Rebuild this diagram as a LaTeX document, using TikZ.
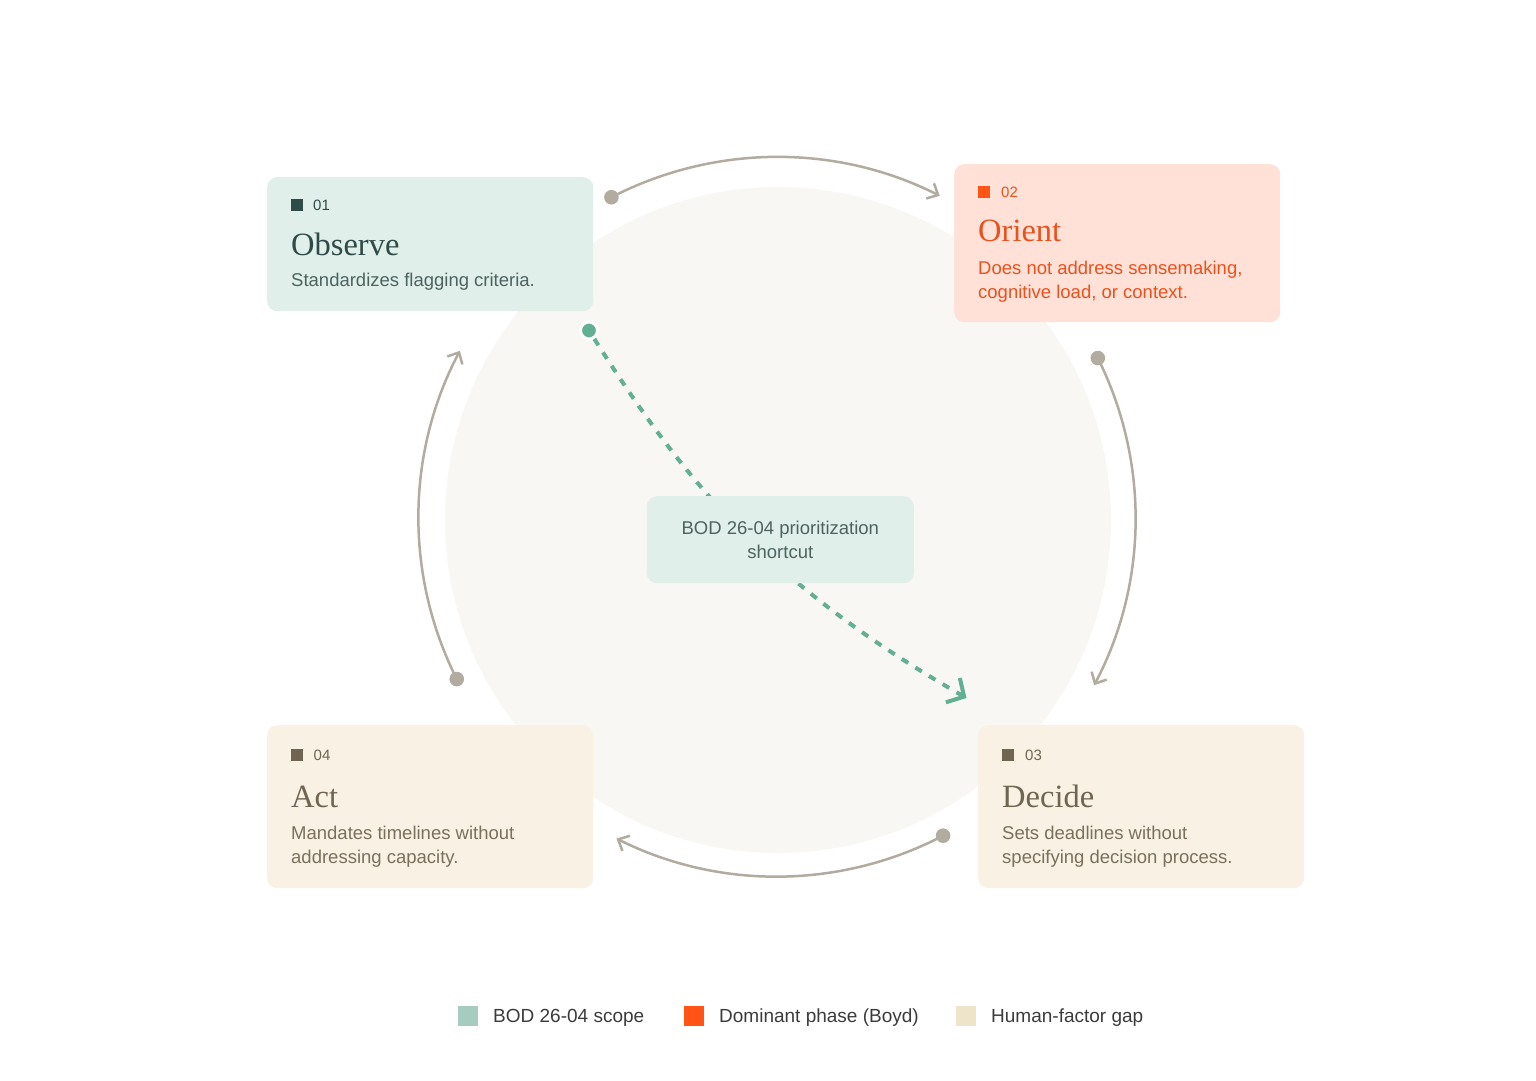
\documentclass[tikz,border=0pt]{standalone}
\usepackage{fontspec}
\setmainfont{Liberation Sans}
\newfontfamily\headfont{Liberation Serif}
\usetikzlibrary{arrows.meta, positioning, calc}
\definecolor{BgDisc}{HTML}{F8F7F4}
\definecolor{LoopGray}{HTML}{B1ABA0}
\definecolor{ScopeFill}{HTML}{E0EFEA}
\definecolor{ScopeInk}{HTML}{2F4B47}
\definecolor{ScopeText}{HTML}{4E6360}
\definecolor{ScopeLegend}{HTML}{A6CBBF}
\definecolor{ShortcutGreen}{HTML}{62AF93}
\definecolor{OrientFill}{HTML}{FFE1D7}
\definecolor{OrientMark}{HTML}{FF5416}
\definecolor{OrientInk}{HTML}{E8521E}
\definecolor{GapFill}{HTML}{F8F1E4}
\definecolor{GapInk}{HTML}{6F6550}
\definecolor{GapText}{HTML}{7A705C}
\definecolor{GapLegend}{HTML}{EEE4C9}
\definecolor{LegendText}{HTML}{3B3B3B}

\begin{document}
\begin{tikzpicture}[
        x=1pt, y=1pt,
        card/.style={rectangle,rounded corners=10pt,minimum width=326pt,
                     anchor=north west,inner sep=0pt},
        tagsq/.style={rectangle,minimum size=12pt,inner sep=0pt,anchor=north west},
        num/.style={font=\fontsize{15}{18}\selectfont,anchor=base west,inner sep=0pt},
        ttl/.style={font=\headfont\fontsize{32.5}{36}\selectfont,anchor=base west,inner sep=0pt},
        desc/.style={font=\fontsize{18.5}{24}\selectfont,anchor=base west,
                     inner sep=0pt,align=left},
        dotnd/.style={circle,fill=LoopGray,minimum size=14.6pt,inner sep=0pt},
        flow/.style={LoopGray,line width=2.5pt,-{Straight Barb[length=9pt,width=17pt]}},
        shortcut/.style={ShortcutGreen,line width=4pt,dash pattern=on 7.5pt off 8.5pt,
                         -{Straight Barb[length=13pt,width=28pt]}},
        lgsq/.style={rectangle,minimum size=20pt,inner sep=0pt,anchor=north west},
        lgtext/.style={font=\fontsize{19}{22}\selectfont,text=LegendText,
                       anchor=base west,inner sep=0pt}
      ]
        \useasboundingbox (0,0) rectangle (1536,-1080);
        % background disc
        \coordinate (c) at (777,-518);
        \fill[BgDisc] (778,-520) circle[radius=333];

        % loop arcs
        \coordinate (p1) at ($(c)+(117.3:361)$);
        \coordinate (p2) at ($(c)+(26.5:358.5)$);
        \coordinate (p3) at ($(c)+(-62.4:358.5)$);
        \coordinate (p4) at ($(c)+(206.7:358.5)$);
        \draw[flow] (p1) arc[start angle=117.3,end angle=63.2,radius=361];
        \draw[flow] (p2) arc[start angle=26.5,end angle=-27.8,radius=358.5];
        \draw[flow] (p3) arc[start angle=-62.4,end angle=-116.6,radius=358.5];
        \draw[flow] (p4) arc[start angle=206.7,end angle=152.2,radius=358.5];
        \node[dotnd] (d1) at (p1) {};
        \node[dotnd] (d2) at (p2) {};
        \node[dotnd] (d3) at (p3) {};
        \node[dotnd] (d4) at (p4) {};

        % cards
        \node[card,fill=ScopeFill,minimum height=134pt] (obs) at (267,-177) {};
        \node[card,fill=OrientFill,minimum height=158pt] (ori) at (954,-164) {};
        \node[card,fill=GapFill,minimum height=163pt] (dec) at (978,-725) {};
        \node[card,fill=GapFill,minimum height=163pt] (act) at (267,-725) {};

        \node[tagsq,fill=ScopeInk] (obsq) at ($(obs.north west)+(24,-22)$) {};
        \node[num,text=ScopeInk] (obsn) at ($(obs.north west)+(46,-33)$) {01};
        \node[ttl,text=ScopeInk] (obst) at ($(obs.north west)+(24,-78)$) {Observe};
        \node[desc,text=ScopeText] (obsd) at ($(obs.north west)+(24,-109.5)$)
          {Standardizes flagging criteria.};

        % two-line texts sit on their last line
        \node[tagsq,fill=OrientMark] (orisq) at ($(ori.north west)+(24,-22)$) {};
        \node[num,text=OrientInk] (orin) at ($(ori.north west)+(47,-33)$) {02};
        \node[ttl,text=OrientInk] (orit) at ($(ori.north west)+(24,-77.5)$) {Orient};
        \node[desc,text=OrientInk] (orid) at ($(ori.north west)+(24,-134)$)
          {Does not address sensemaking,\\cognitive load, or context.};

        \node[tagsq,fill=GapInk] (decsq) at ($(dec.north west)+(24,-24)$) {};
        \node[num,text=GapInk] (decn) at ($(dec.north west)+(47,-35)$) {03};
        \node[ttl,text=GapInk] (dect) at ($(dec.north west)+(24,-82)$) {Decide};
        \node[desc,text=GapText] (decd) at ($(dec.north west)+(24,-138.3)$)
          {Sets deadlines without\\specifying decision process.};

        \node[tagsq,fill=GapInk] (actsq) at ($(act.north west)+(24,-24)$) {};
        \node[num,text=GapInk] (actn) at ($(act.north west)+(46.5,-35)$) {04};
        \node[ttl,text=GapInk] (actt) at ($(act.north west)+(24,-82)$) {Act};
        \node[desc,text=GapText] (actd) at ($(act.north west)+(24,-138.3)$)
          {Mandates timelines without\\addressing capacity.};

        % shortcut
        \node[circle,fill=ShortcutGreen,draw=white,line width=3pt,
              minimum size=17pt,inner sep=0pt] (gd) at (589,-330.5) {};
        \coordinate (gend) at (966.5,-698);
        \draw[shortcut] (gd) .. controls (690,-490) and (775,-588) .. (gend);
        \node[rectangle,rounded corners=10pt,fill=ScopeFill,text=ScopeText,
              minimum width=267pt,minimum height=87pt,inner sep=0pt,align=center,
              font=\fontsize{18.5}{24}\selectfont] (sc) at (780.3,-539.7)
          {BOD 26-04 prioritization\\shortcut};

        % legend
        \node[lgsq,fill=ScopeLegend] (lg1) at (458,-1006) {};
        \node[lgtext] (lt1) at (493,-1022.5) {BOD 26-04 scope};
        \node[lgsq,fill=OrientMark] (lg2) at (684,-1006) {};
        \node[lgtext] (lt2) at (719,-1022.5) {Dominant phase (Boyd)};
        \node[lgsq,fill=GapLegend] (lg3) at (956,-1006) {};
        \node[lgtext] (lt3) at (991,-1022.5) {Human-factor gap};
      \end{tikzpicture}
\end{document}
